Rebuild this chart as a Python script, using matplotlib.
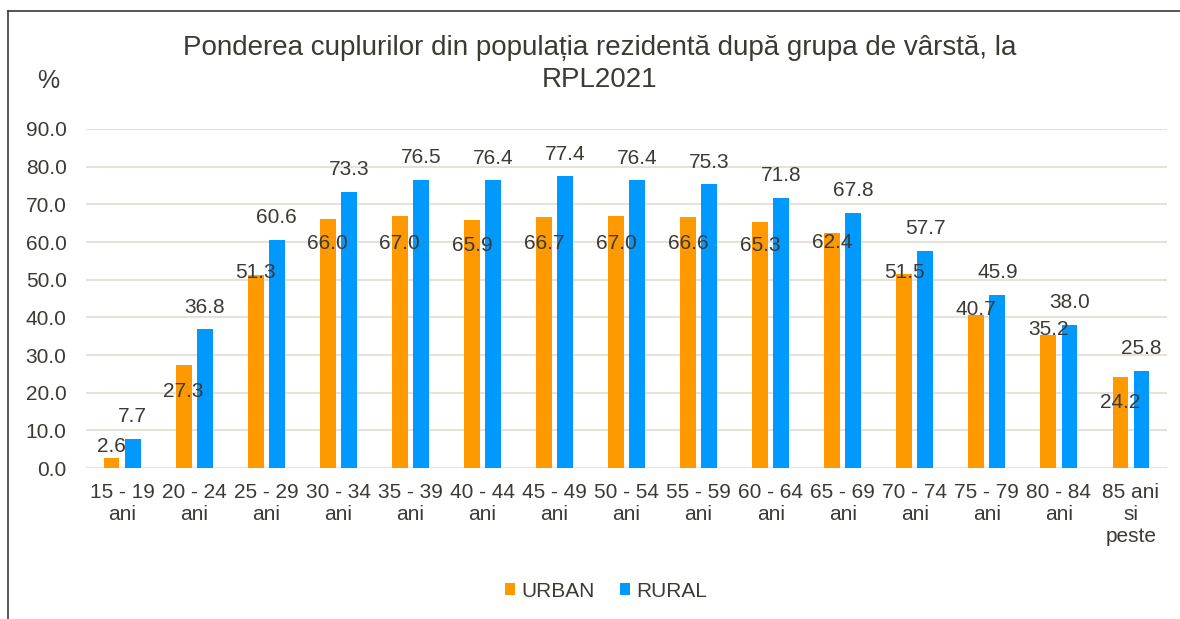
import matplotlib.pyplot as plt
import numpy as np
from matplotlib.lines import Line2D

plt.rcParams['font.family'] = ['Liberation Sans', 'DejaVu Sans']

# Age groups and shares (%)
age_groups = ["15 - 19\nani", "20 - 24\nani", "25 - 29\nani", "30 - 34\nani",
              "35 - 39\nani", "40 - 44\nani", "45 - 49\nani", "50 - 54\nani",
              "55 - 59\nani", "60 - 64\nani", "65 - 69\nani", "70 - 74\nani",
              "75 - 79\nani", "80 - 84\nani", "85 ani\nsi\npeste"]
urban = [2.6, 27.3, 51.3, 66.0, 67.0, 65.9, 66.7, 67.0, 66.6, 65.3, 62.4, 51.5, 40.7, 35.2, 24.2]
rural = [7.7, 36.8, 60.6, 73.3, 76.5, 76.4, 77.4, 76.4, 75.3, 71.8, 67.8, 57.7, 45.9, 38.0, 25.8]
# where the URBAN labels sit (placed by hand in the original)
urban_label_y = [5.8, 20.2, 52.0, 59.7, 59.7, 59.0, 59.7, 59.7, 59.7, 59.2, 59.9, 52.0, 42.0, 36.8, 17.3]

TXT = '#3d3a35'
ORANGE = '#FF9900'
BLUE = '#0099FF'

fig = plt.figure(figsize=(11.8, 6.19), dpi=100)
ax = fig.add_axes([0.0729, 0.2439, 0.9161, 0.5477])

x = np.arange(len(age_groups))
w = 0.22
off = 0.146
ax.bar(x - off, urban, w, color=ORANGE, label='URBAN', zorder=2)
ax.bar(x + off, rural, w, color=BLUE, label='RURAL', zorder=2)

for i in range(len(x)):
    ax.text(x[i] - off, urban_label_y[i], f"{urban[i]:.1f}", ha='center', va='center',
            fontsize=15, color=TXT, zorder=3)
    ax.annotate(f"{rural[i]:.1f}", (x[i] + off, rural[i]), xytext=(0, 16),
                textcoords='offset points', ha='center', va='center',
                fontsize=15, color=TXT, zorder=3)

ax.set_xlim(-0.5, len(x) - 0.5)
ax.set_ylim(0, 90)
ax.set_yticks(np.arange(0, 91, 10))
ax.set_yticklabels([f"{v:.1f}" for v in np.arange(0, 91, 10)])
ax.set_xticks(x)
ax.set_xticklabels(age_groups, linespacing=1.2)
ax.tick_params(axis='both', length=0, labelsize=15, labelcolor=TXT)
ax.tick_params(axis='x', pad=11)
ax.tick_params(axis='y', pad=14)
ax.grid(axis='y', color='#E6E2DA', linewidth=1.5, zorder=0)
for s in ax.spines.values():
    s.set_visible(False)

fig.text(0.5085, 0.8966, "Ponderea cuplurilor din populația rezidentă după grupa de vârstă, la\nRPL2021",
         ha='center', va='center', fontsize=20, color=TXT, linespacing=1.3)
fig.text(0.0407, 0.869, "%", ha='center', va='center', fontsize=18, color=TXT)

ax.legend(loc='center', bbox_to_anchor=(0.481, -0.363), ncol=2, frameon=False,
          fontsize=15, labelcolor=TXT, handlelength=0.5, handleheight=0.5,
          handletextpad=0.3, columnspacing=1.2)

# outer frame of the original chart
fig.add_artist(Line2D([0.0068, 0.0068], [0, 0.982], color='#3a3a3a', linewidth=1.2))
fig.add_artist(Line2D([0.0068, 1.0], [0.982, 0.982], color='#3a3a3a', linewidth=1.2))

fig.savefig('out.png', dpi=100)
